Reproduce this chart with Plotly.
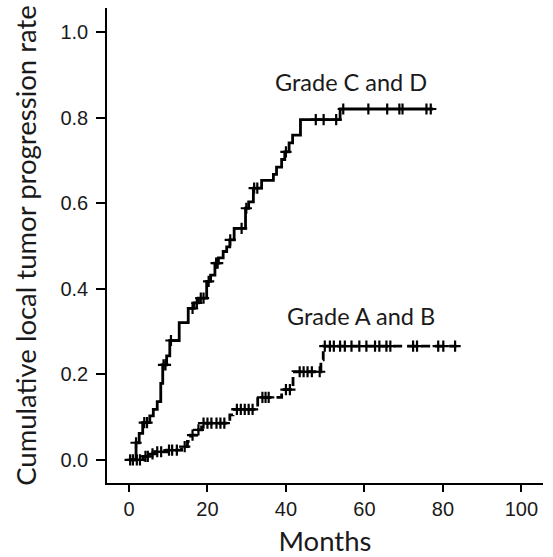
import numpy as np
import plotly.graph_objects as go

# ---- Data ----
cd_times = [0, 1.8, 2.6, 3.5, 5.3, 6.2, 7.2, 8.1, 8.6, 9.6, 10.4, 12.8, 15.1, 16.6, 17.7,
            19.8, 20.8, 21.9, 22.8, 24.0, 24.9, 25.7, 26.8, 29.7, 30.5, 31.7, 33.8, 36.8,
            37.6, 38.9, 39.7, 40.8, 41.7, 43.7, 53.8, 77.5]
cd_values = [0, 0.040, 0.062, 0.087, 0.103, 0.118, 0.136, 0.179, 0.222, 0.243, 0.279, 0.321,
             0.354, 0.367, 0.378, 0.417, 0.432, 0.460, 0.472, 0.487, 0.498, 0.514, 0.541,
             0.588, 0.603, 0.635, 0.653, 0.667, 0.684, 0.702, 0.720, 0.741, 0.759, 0.795,
             0.820, 0.820]
cd_censor = [1.8, 3.9, 4.6, 8.8, 9.3, 10.7, 16.2, 17.3, 18.3, 19.0, 20.3, 22.2, 22.6, 25.8,
             28.7, 29.9, 31.9, 32.7, 40.0, 47.6, 49.6, 52.8, 54.6, 61.0, 65.8, 68.9, 69.7,
             75.8, 76.9]

ab_times = [0, 3.6, 5.35, 6.6, 9.6, 13.4, 14.9, 15.7, 17.2, 18.5, 25.7, 26.5, 32.8, 38.9,
            41.8, 48.9, 49.5, 83.5]
ab_values = [0, 0.008, 0.014, 0.019, 0.023, 0.031, 0.043, 0.058, 0.070, 0.086, 0.105, 0.118,
             0.146, 0.164, 0.206, 0.234, 0.266, 0.266]
ab_censor = [0.3, 1.0, 2.0, 2.8, 4.2, 4.8, 6.0, 7.2, 8.2, 10.2, 11.0, 12.2, 14.2, 16.2, 17.7,
             19.0, 20.0, 21.0, 22.3, 23.3, 24.3, 27.5, 28.5, 29.5, 30.5, 31.5, 34.0, 34.8,
             35.6, 40.0, 41.0, 43.5, 44.5, 45.5, 46.6, 48.6, 49.9, 51.2, 52.2, 53.8, 55.0,
             56.7, 58.7, 60.5, 62.7, 63.8, 65.6, 66.6, 72.4, 73.4, 78.8, 80.1, 83.1]

x_ticks = [0, 20, 40, 60, 80, 100]
y_ticks = [0.0, 0.2, 0.4, 0.6, 0.8, 1.0]
y_tick_labels = ["0.0", "0.2", "0.4", "0.6", "0.8", "1.0"]


def step_at(times, values, ts):
    t = np.asarray(times)
    v = np.asarray(values)
    idx = np.searchsorted(t, np.asarray(ts), side="right") - 1
    return v[np.clip(idx, 0, len(v) - 1)]


fig = go.Figure()

marker_style = dict(symbol="cross-thin", size=8, color="black",
                    line=dict(width=2.2, color="black"))

fig.add_trace(go.Scatter(x=cd_times, y=cd_values, mode="lines", line_shape="hv",
                         line=dict(color="black", width=2.8), showlegend=False))
fig.add_trace(go.Scatter(x=cd_censor, y=step_at(cd_times, cd_values, cd_censor),
                         mode="markers", marker=marker_style, showlegend=False))

fig.add_trace(go.Scatter(x=ab_times, y=ab_values, mode="lines", line_shape="hv",
                         line=dict(color="black", width=2.8, dash="9px,5px"),
                         showlegend=False))
fig.add_trace(go.Scatter(x=ab_censor, y=step_at(ab_times, ab_values, ab_censor),
                         mode="markers", marker=marker_style, showlegend=False))

title_font = dict(family="Lato", size=27.5, color="#1a1a1a")
tick_font = dict(family="Liberation Sans", size=20, color="#1a1a1a")
label_font = dict(family="Lato", size=23.5, color="#1a1a1a")

fig.update_layout(
    width=553, height=557,
    margin=dict(l=107, r=10, t=8, b=74, autoexpand=False),
    paper_bgcolor="white", plot_bgcolor="white",
    xaxis=dict(range=[-5.6, 105.5], tickvals=x_ticks, ticks="outside", ticklen=7,
               tickwidth=1.5, tickcolor="black", showline=True, linecolor="black",
               linewidth=1.5, showgrid=False, zeroline=False, tickfont=tick_font,
               automargin=False,
               title=dict(text="Months", font=title_font, standoff=14)),
    yaxis=dict(range=[-0.054, 1.056], tickvals=y_ticks, ticktext=y_tick_labels,
               ticks="outside", ticklen=9, tickwidth=1.5, tickcolor="black",
               showline=True, linecolor="black", linewidth=1.5, showgrid=False,
               zeroline=False, tickfont=tick_font, ticklabelstandoff=4,
               automargin=False,
               title=dict(text="Cumulative local tumor progression rate",
                          font=title_font, standoff=16)),
    annotations=[
        dict(text="Grade C and D", x=351, y=82, xref="paper", yref="paper",
             xanchor="center", yanchor="middle", showarrow=False, font=label_font),
        dict(text="Grade A and B", x=361, y=316, xref="paper", yref="paper",
             xanchor="center", yanchor="middle", showarrow=False, font=label_font),
    ],
)

# convert annotation pixel positions into paper coordinates
pw, ph = 553 - 107 - 10, 557 - 8 - 74
for a in fig.layout.annotations:
    a.x = (a.x - 107) / pw
    a.y = 1 - (a.y - 8) / ph

fig.write_html("out.html",
               config={"displayModeBar": False},
               post_script="document.body.style.margin='0';"
                           "document.body.style.overflow='hidden';")
